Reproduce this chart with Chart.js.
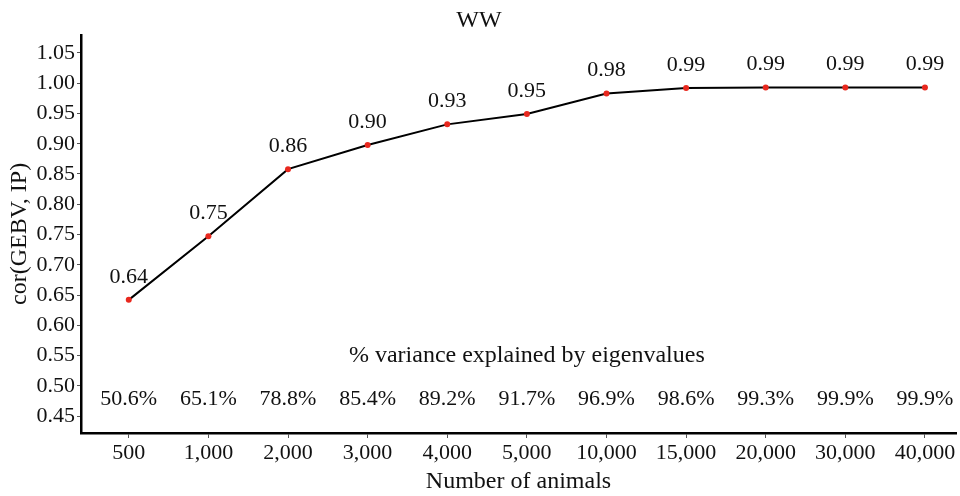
<!DOCTYPE html>
<html>
<head>
<meta charset="utf-8">
<script src="https://cdn.jsdelivr.net/npm/chart.js@4/dist/chart.umd.min.js"></script>
<style>
  html, body { margin: 0; padding: 0; background: #fff; }
</style>
</head>
<body>
<canvas id="ww" width="960" height="496"></canvas>
<script>
const animals = ['500', '1,000', '2,000', '3,000', '4,000', '5,000', '10,000', '15,000', '20,000', '30,000', '40,000'];
const corValues = [0.642, 0.747, 0.858, 0.898, 0.932, 0.949, 0.983, 0.992, 0.993, 0.993, 0.993];
const varianceExplained = ['50.6%', '65.1%', '78.8%', '85.4%', '89.2%', '91.7%', '96.9%', '98.6%', '99.3%', '99.9%', '99.9%'];
const yTicks = [0.45, 0.50, 0.55, 0.60, 0.65, 0.70, 0.75, 0.80, 0.85, 0.90, 0.95, 1.00, 1.05];

const serif = 'Liberation Serif';

// text drawn inside the plot: value labels, variance heading and percentages
const annotations = {
  id: 'annotations',
  afterDatasetsDraw(chart) {
    const ctx = chart.ctx;
    const x = chart.scales.x, y = chart.scales.y;
    ctx.save();
    ctx.fillStyle = '#111';
    ctx.textAlign = 'center';
    ctx.textBaseline = 'middle';
    ctx.font = '22px "' + serif + '"';
    corValues.forEach(function(v, i) {
      ctx.fillText(v.toFixed(2), x.getPixelForValue(i + 1), y.getPixelForValue(v) - 23);
    });
    varianceExplained.forEach(function(p, i) {
      ctx.fillText(p, x.getPixelForValue(i + 1), y.getPixelForValue(0.477));
    });
    ctx.font = '24px "' + serif + '"';
    ctx.fillText('% variance explained by eigenvalues', x.getPixelForValue(6), y.getPixelForValue(0.55));
    ctx.restore();
  }
};

new Chart(document.getElementById('ww'), {
  type: 'line',
  data: {
    datasets: [{
      data: corValues.map(function(v, i) { return { x: i + 1, y: v }; }),
      borderColor: '#000',
      borderWidth: 2,
      pointRadius: 3,
      pointBackgroundColor: '#e8281e',
      pointBorderWidth: 0,
      tension: 0
    }]
  },
  options: {
    responsive: false,
    animation: false,
    layout: { padding: { left: 0, right: 2, top: 0, bottom: 0 } },
    plugins: {
      legend: { display: false },
      tooltip: { enabled: false },
      title: {
        display: true,
        text: 'WW',
        color: '#111',
        font: { family: serif, size: 24, weight: 'normal' },
        padding: { top: 6, bottom: 0 }
      }
    },
    scales: {
      x: {
        type: 'linear',
        min: 0.4,
        max: 11.39,
        afterBuildTicks: function(scale) {
          scale.ticks = animals.map(function(a, i) { return { value: i + 1 }; });
        },
        afterFit: function(scale) { scale.height = 63; },
        ticks: {
          color: '#111',
          padding: 2,
          maxRotation: 0,
          minRotation: 0,
          autoSkip: false,
          font: { family: serif, size: 22 },
          callback: function(value) { return animals[Math.round(value) - 1]; }
        },
        grid: { drawOnChartArea: false, drawTicks: true, tickLength: 5, color: '#555' },
        border: { display: true, color: '#000', width: 2.5 },
        title: {
          display: true,
          text: 'Number of animals',
          color: '#111',
          font: { family: serif, size: 24 },
          padding: { top: 1, bottom: 0 }
        }
      },
      y: {
        min: 0.422,
        max: 1.08,
        afterBuildTicks: function(scale) {
          scale.ticks = yTicks.map(function(t) { return { value: t }; });
        },
        afterFit: function(scale) { scale.width = 81; },
        ticks: {
          color: '#111',
          padding: 2,
          autoSkip: false,
          font: { family: serif, size: 22 },
          callback: function(value) { return value.toFixed(2); }
        },
        grid: { drawOnChartArea: false, drawTicks: true, tickLength: 4, color: '#555' },
        border: { display: true, color: '#000', width: 2.5 },
        title: {
          display: true,
          text: 'cor(GEBV, IP)',
          color: '#111',
          font: { family: serif, size: 24 },
          padding: { top: 5, bottom: 0 }
        }
      }
    }
  },
  plugins: [annotations]
});
</script>
</body>
</html>
